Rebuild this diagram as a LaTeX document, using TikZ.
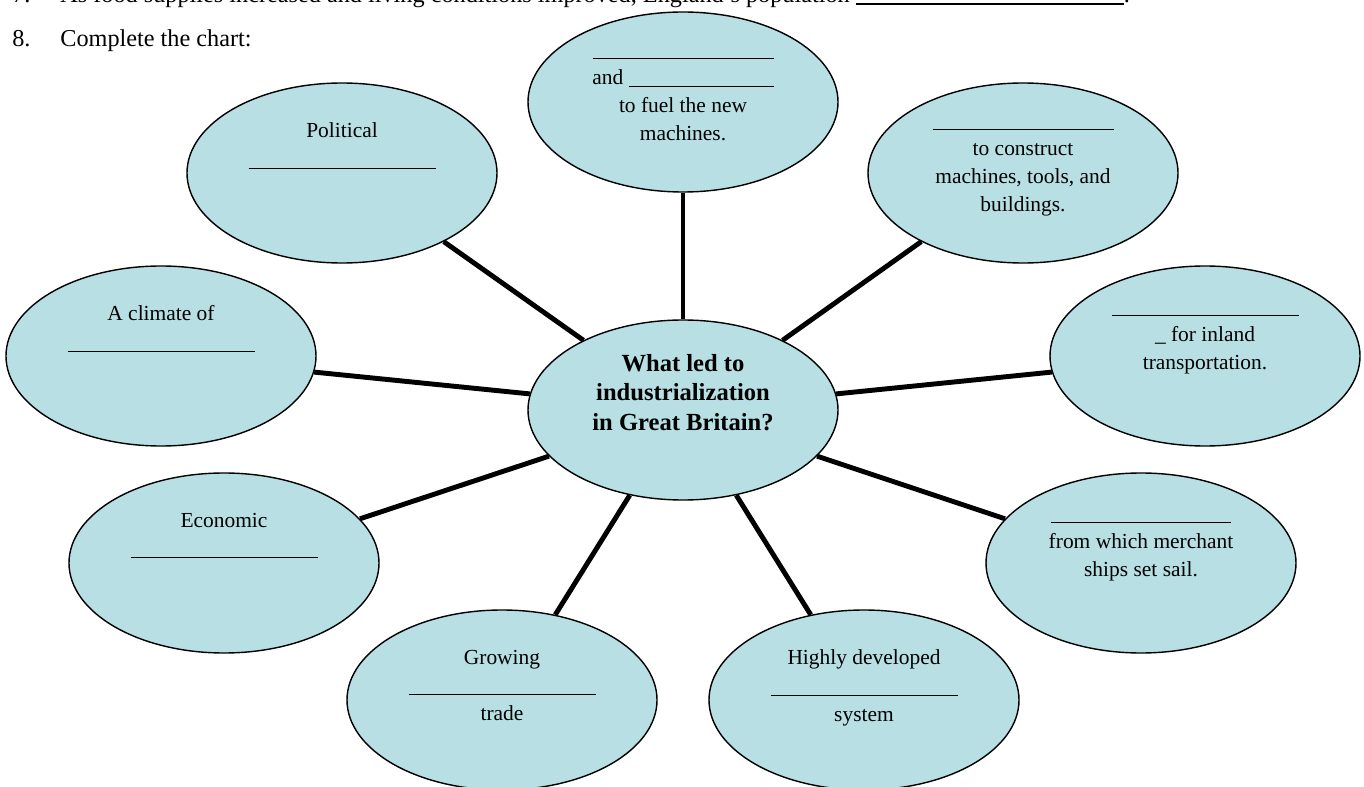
\documentclass[tikz,border=0pt]{standalone}
\usepackage{fontspec}
\setmainfont{Liberation Serif}
\usetikzlibrary{shapes.geometric}
\definecolor{bubblefill}{RGB}{184,223,227}
\newcommand{\blank}[1]{\rule[-1.5pt]{#1}{0.6pt}}

\begin{document}
\begin{tikzpicture}[
    bubble/.style={ellipse, draw=black, line width=0.8pt, fill=bubblefill,
      minimum width=6.2cm, minimum height=3.6cm, inner sep=0pt, align=center,
      font=\fontsize{12.2}{16}\selectfont, execute at begin node=\strut, text depth=16.5pt},
    question/.style={anchor=base west, inner sep=0pt, font=\fontsize{13.8}{16}\selectfont},
    spoke/.style={line width=2.8pt}
  ]
  \useasboundingbox (0,0) rectangle (27.28,-15.74);
  \node[question] (q7) at (0.24,-0.06) {\makebox[0.96cm][l]{7.}As food supplies increased and living conditions improved, England's population \rule[-1pt]{5.36cm}{1.1pt}.};
  \node[question] (q8) at (0.24,-0.94) {\makebox[0.96cm][l]{8.}Complete the chart:};

  \node[bubble, font=\bfseries\fontsize{14}{16.7}\selectfont, text depth=20pt] (hub) at (13.66,-8.20) {What led to\\industrialization\\in Great Britain?};
  \node[bubble, text depth=4pt] (fuel) at (13.66,-2.04) {\blank{3.62cm}\\and \blank{2.9cm}\\to fuel the new\\machines.};
  \node[bubble, text depth=4pt] (iron) at (20.46,-3.46) {\blank{3.62cm}\\to construct\\machines, tools, and\\buildings.};
  \node[bubble] (rivers) at (24.10,-7.12) {\blank{3.74cm}\\\_ for inland\\transportation.};
  \node[bubble] (ports) at (22.82,-11.26) {\blank{3.6cm}\\from which merchant\\ships set sail.};
  \node[bubble] (banking) at (17.28,-14.00) {Highly developed\\\blank{3.74cm}\\system};
  \node[bubble] (trade) at (10.04,-14.00) {Growing\\\blank{3.74cm}\\trade};
  \node[bubble] (economic) at (4.48,-11.26) {Economic\\\blank{3.74cm}\\\mbox{}};
  \node[bubble] (climate) at (3.22,-7.12) {A climate of\\\blank{3.74cm}\\\mbox{}};
  \node[bubble] (political) at (6.84,-3.46) {Political\\\blank{3.74cm}\\\mbox{}};

  \draw[spoke] (hub.north) -- (fuel.south);
  \draw[spoke] (hub.35) -- (iron.214);
  \draw[spoke] (hub.6) -- (rivers.186);
  \draw[spoke] (hub.-19) -- (ports.162);
  \draw[spoke] (hub.302) -- (banking.122);
  \draw[spoke] (hub.238) -- (trade.58);
  \draw[spoke] (hub.199) -- (economic.18);
  \draw[spoke] (hub.174) -- (climate.-6);
  \draw[spoke] (hub.145) -- (political.-34);
\end{tikzpicture}
\end{document}
